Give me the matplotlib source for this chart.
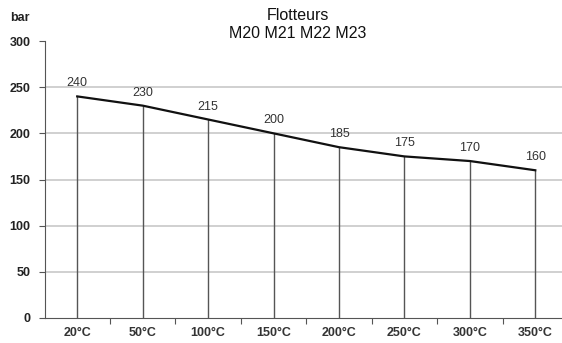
import matplotlib
matplotlib.use("Agg")
import matplotlib.pyplot as plt

categories = ["20°C", "50°C", "100°C", "150°C", "200°C", "250°C", "300°C", "350°C"]
values = [240, 230, 215, 200, 185, 175, 170, 160]
title = "Flotteurs\nM20 M21 M22 M23"
ylabel = "bar"
yticks = [0, 50, 100, 150, 200, 250, 300]

plt.rcParams['font.family'] = ['Liberation Sans', 'DejaVu Sans']

W, H = 562, 343
fig = plt.figure(figsize=(W/100, H/100), dpi=100)
left, right = 44.5, 568
top, bottom = 41, 318
ax = fig.add_axes([left/W, (H-bottom)/H, (right-left)/W, (bottom-top)/H])

x = list(range(len(categories)))
ax.set_xlim(-0.5, len(categories)-0.5)
ax.set_ylim(0, 300)

for v in yticks[1:-1]:
    ax.axhline(v, color="#c8c8c8", lw=1.2, zorder=0)

ax.vlines(x, 0, values, color="#555555", lw=1.0, zorder=1)
ax.plot(x, values, color="#111111", lw=1.6, zorder=2)
for xi, v in zip(x, values):
    ax.annotate(str(v), (xi, v), xytext=(0, 5), textcoords="offset points",
                ha="center", va="bottom", fontsize=9, color="#333333")

for s in ["top", "right"]:
    ax.spines[s].set_visible(False)
ax.spines["left"].set_color("#555555")
ax.spines["bottom"].set_color("#555555")

ax.set_yticks(yticks)
ax.set_yticklabels([str(t) for t in yticks], fontsize=9, fontweight="bold", color="#222222")
ax.tick_params(axis="y", length=4, color="#555555", pad=6)

ax.set_xticks([i - 0.5 for i in range(1, len(categories)+1)])
ax.set_xticklabels([])
ax.tick_params(axis="x", length=4, color="#555555")
for xi, c in zip(x, categories):
    ax.annotate(c, (xi, 0), xytext=(0, -11), textcoords="offset points",
                ha="center", va="center", fontsize=9, fontweight="bold", color="#333333")

fig.text(298/W, 1 - 24/H, title, ha="center", va="center", fontsize=11.5,
         color="#111111", linespacing=1.25)
fig.text(10/W, 1 - 18/H, ylabel, ha="left", va="center", fontsize=9,
         fontweight="bold", color="#222222")

fig.savefig("out.png", dpi=100)
